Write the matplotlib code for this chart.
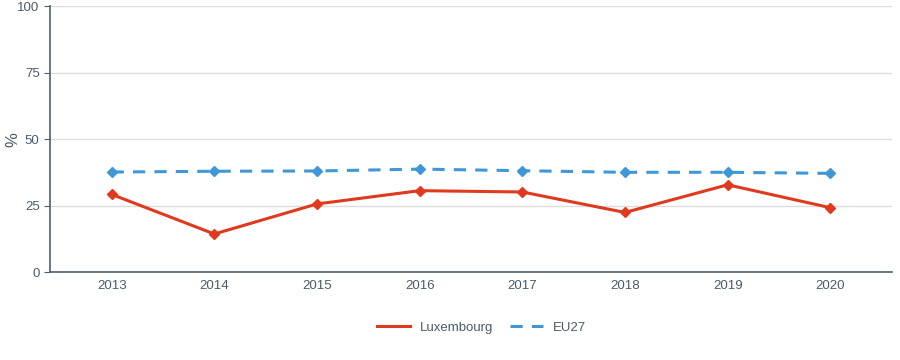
import matplotlib
matplotlib.use("Agg")
from matplotlib import pyplot as plt

years = [2013, 2014, 2015, 2016, 2017, 2018, 2019, 2020]
luxembourg = [29.2, 14.3, 25.6, 30.6, 30.1, 22.4, 32.8, 24.2]
eu27 = [37.6, 37.9, 38.0, 38.7, 38.1, 37.5, 37.5, 37.1]

red = "#e03a1e"
blue = "#3f98d5"
txt = "#4a5a6b"
axc = "#4d5f70"

plt.rcParams["font.family"] = ["Liberation Sans", "DejaVu Sans"]

fig = plt.figure(figsize=(9, 3.6), dpi=100)
ax = fig.add_axes([0.0556, 0.2444, 0.9354, 0.7386])

ax.plot(years, luxembourg, color=red, lw=2.2, marker="D", ms=5.5, label="Luxembourg", zorder=3)
ax.plot(years, eu27, color=blue, lw=2.2, ls=(0, (4, 3)), marker="D", ms=5.5, label="EU27", zorder=3)

ax.set_xlim(2012.4, 2020.6)
ax.set_ylim(0, 100)
ax.set_xticks(years)
ax.set_yticks([0, 25, 50, 75, 100])
ax.grid(axis="y", color="#dddddd", lw=1)
ax.set_axisbelow(True)
for s in ["top", "right"]:
    ax.spines[s].set_visible(False)
for s in ["left", "bottom"]:
    ax.spines[s].set_color(axc)
    ax.spines[s].set_linewidth(1.2)
ax.tick_params(axis="both", colors=axc, labelcolor=txt, labelsize=9.5, length=4)
ax.tick_params(axis="x", length=0, pad=6)
ax.set_ylabel("%", color=txt, fontsize=12)
ax.yaxis.set_label_coords(-0.035, 0.5)

leg = fig.legend(loc="lower center", bbox_to_anchor=(0.535, 0.04), ncol=2, frameon=False,
                 fontsize=9.5, handlelength=2.5, columnspacing=1.2, handletextpad=0.8)
for h in leg.legend_handles:
    h.set_marker("")
for t in leg.get_texts():
    t.set_color(txt)

fig.savefig("out.png", dpi=100)
